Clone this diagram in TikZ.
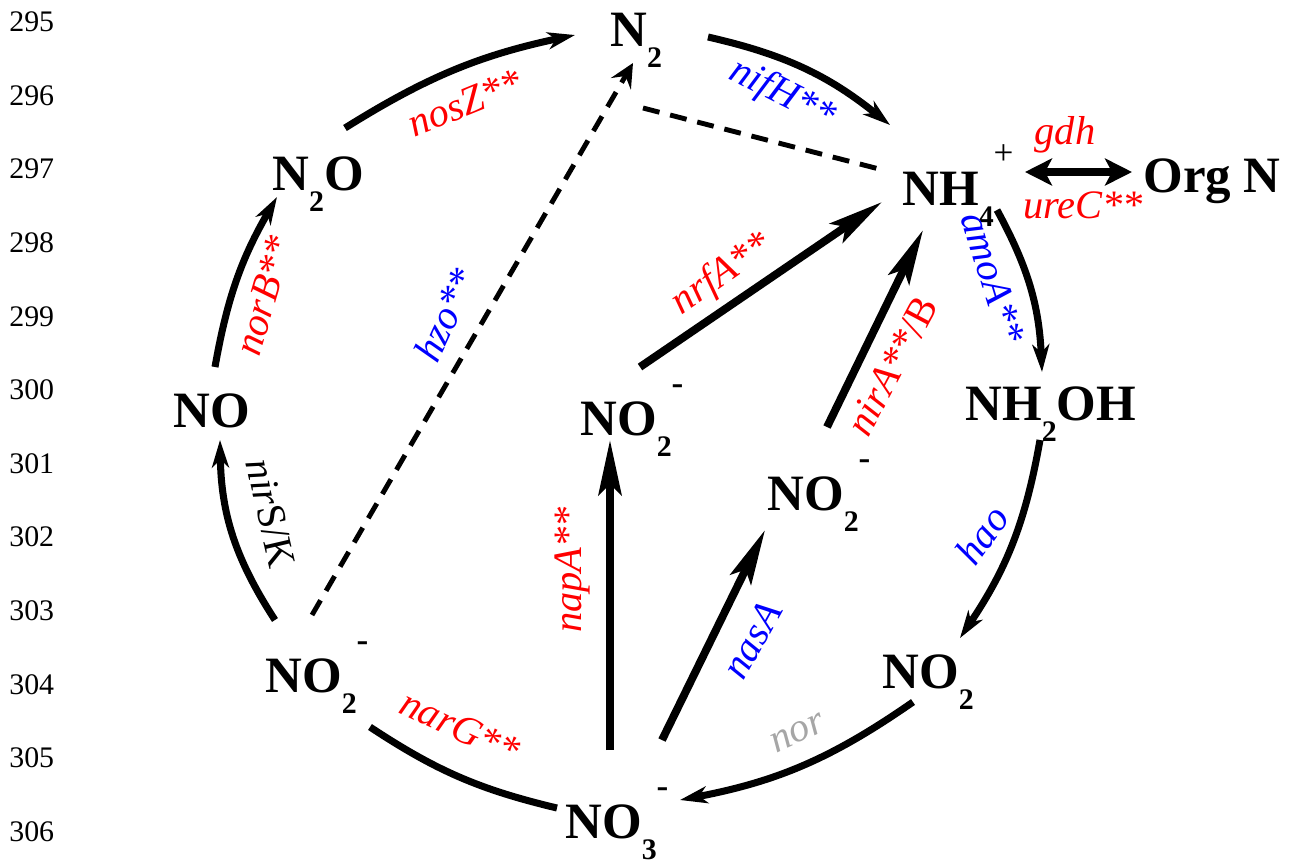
\documentclass[tikz,border=0pt]{standalone}
\usepackage{fontspec}
\setmainfont{Liberation Serif}
\usepackage{xcolor}
\definecolor{cRed}{HTML}{FF0000}
\definecolor{cBlue}{HTML}{0000FF}
\definecolor{cGray}{HTML}{A6A6A6}
\usepackage{tikz}
\usetikzlibrary{arrows.meta}
\newcommand\spsub[1]{\raisebox{-0.42em}{\fontsize{17}{17}\selectfont #1}}
\newcommand\spchg[1]{\raisebox{0.8em}{\fontsize{20}{20}\selectfont #1}}
\tikzset{
  node-species/.style={inner sep=0pt,anchor=base west,
    font=\fontsize{29}{29}\selectfont\bfseries},
  node-gene/.style={inner sep=0pt,font=\fontsize{23}{23}\selectfont\itshape},
  node-line/.style={inner sep=0pt,anchor=west,font=\fontsize{17}{17}\selectfont},
  % curved steps of the cycle, straight shortcuts, anammox (dashed)
  line-cycle/.style={line width=4pt},
  arrow-cycle/.style={line-cycle,-{Stealth[length=5.5mm,width=3.4mm,inset=1.6mm]}},
  arrow-direct/.style={-{Stealth[length=11mm,width=4.6mm,inset=2.2mm]},line width=4.5pt},
  line-anammox/.style={line width=2.8pt,dash pattern=on 3.4mm off 2.2mm},
  arrow-anammox/.style={line-anammox,-{Stealth[length=4.8mm,width=4.6mm,inset=1.8mm]}},
  arrow-both/.style={{Stealth[length=5.4mm,width=5.4mm,inset=1.4mm]}-{Stealth[length=5.4mm,width=5.4mm,inset=1.4mm]},line width=4.5pt},
}

\begin{document}
\begin{tikzpicture}[x=0.02cm,y=-0.02cm]
  \useasboundingbox (0,0) rectangle (1289,860);
  \foreach \n [count=\i from 0] in {295,...,306}
    \node[node-line] (ln\n) at (9,{22+73.6*\i}) {\n};

  \node[node-species] (n2)    at (610,46)   {N\spsub{2}};
  \node[node-species] (nh4)   at (902,205)  {NH\spsub{4}\spchg{\mdseries+}};
  \node[node-species] (orgn)  at (1143,192) {Org N};
  \node[node-species] (nh2oh) at (965,420)  {NH\spsub{2}OH};
  \node[node-species] (no2r)  at (882,688)  {NO\spsub{2}};
  \node[node-species] (no3)   at (565,838)  {NO\spsub{3}\spchg{-}};
  \node[node-species] (no2l)  at (265,692)  {NO\spsub{2}\spchg{-}};
  \node[node-species] (no)    at (173,427)  {NO};
  \node[node-species] (n2o)   at (272,190)  {N\spsub{2}O};
  \node[node-species] (no2c)  at (580,435)  {NO\spsub{2}\spchg{-}};
  \node[node-species] (no2cr) at (767,510)  {NO\spsub{2}\spchg{-}};

  \draw[arrow-cycle] ([shift={(73,-62)}]n2o.base west) to[bend left=10] ([shift={(-35,-11)}]n2.base west);
  \draw[arrow-cycle] ([shift={(98,-9)}]n2.base west) to[bend left=13] ([shift={(-12,-80)}]nh4.base west);
  \draw[arrow-cycle] ([shift={(95,5)}]nh4.base west) to[bend left=13] ([shift={(77,-48)}]nh2oh.base west);
  \draw[arrow-cycle] ([shift={(75,20)}]nh2oh.base west) to[bend left=12] ([shift={(78,-50)}]no2r.base west);
  \draw[arrow-cycle] ([shift={(31,14)}]no2r.base west) to[bend left=12] ([shift={(115,-38)}]no3.base west);
  \draw[line-cycle]  ([shift={(-8,-30)}]no3.base west) to[bend left=10] ([shift={(105,35)}]no2l.base west);
  \draw[arrow-cycle] ([shift={(10,-72)}]no2l.base west) to[bend left=16] ([shift={(47,13)}]no.base west);
  \draw[arrow-cycle] ([shift={(42,-60)}]no.base west) to[bend left=10] ([shift={(5,7)}]n2o.base west);

  \draw[arrow-anammox] ([shift={(47,-77)}]no2l.base west) -- ([shift={(23,17)}]n2.base west);
  \draw[line-anammox]  ([shift={(33,62)}]n2.base west) -- ([shift={(-19,-35)}]nh4.base west);

  \draw[arrow-direct] ([shift={(60,-68)}]no2c.base west) -- ([shift={(-20,-3)}]nh4.base west);
  \draw[arrow-direct] ([shift={(60,-83)}]no2cr.base west) -- ([shift={(21,25)}]nh4.base west);
  \draw[arrow-direct] ([shift={(45,-88)}]no3.base west) -- ([shift={(30,5)}]no2c.base west);
  \draw[arrow-direct] ([shift={(97,-98)}]no3.base west) -- ([shift={(-2,20)}]no2cr.base west);
  \draw[arrow-both]   ([shift={(123,-33)}]nh4.base west) -- ([shift={(-11,-20)}]orgn.base west);

  \node[node-gene,text=cRed,rotate=22]   (g-nosz)  at (465,103) {nosZ**};
  \node[node-gene,text=cBlue,rotate=-27] (g-nifh)  at (782,95)  {nifH**};
  \node[node-gene,text=cBlue,rotate=-73] (g-amoa)  at (993,278) {amoA**};
  \node[node-gene,text=cBlue,rotate=55]  (g-hao)   at (982,535) {hao};
  \node[node-gene,text=cGray,rotate=25]  (g-nor)   at (798,733) {nor};
  \node[node-gene,text=cRed,rotate=-25]  (g-narg)  at (460,727) {narG**};
  \node[node-gene,rotate=-77]            (g-nirsk) at (271,513) {nir{\upshape S/K}};
  \node[node-gene,text=cRed,rotate=74]   (g-norb)  at (264,296) {norB**};
  \node[node-gene,text=cBlue,rotate=65]  (g-hzo)   at (445,315) {hzo**};
  \node[node-gene,text=cRed,rotate=35]   (g-nrfa)  at (722,275) {nrfA**};
  \node[node-gene,text=cRed,rotate=62]   (g-nira)  at (892,366) {nirA**{\upshape/B}};
  \node[node-gene,text=cRed,rotate=90]   (g-napa)  at (572,570) {napA**};
  \node[node-gene,text=cBlue,rotate=61]  (g-nasa)  at (752,640) {nasA};
  \node[node-gene,text=cRed]             (g-gdh)   at (1065,135) {gdh};
  \node[node-gene,text=cRed]             (g-urec)  at (1083,205) {ureC**};
\end{tikzpicture}
\end{document}
